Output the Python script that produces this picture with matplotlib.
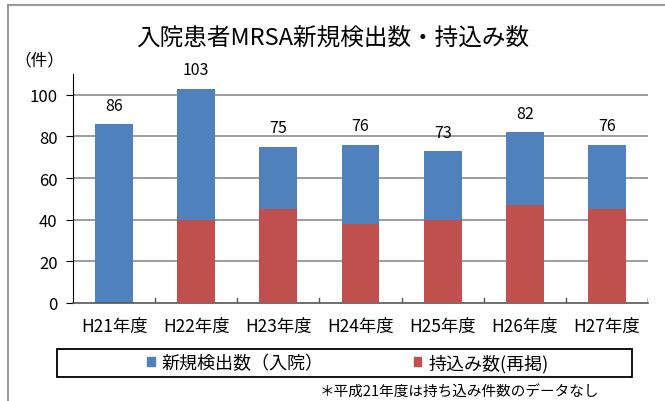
import matplotlib
matplotlib.use("Agg")
import matplotlib.pyplot as plt
from matplotlib.patches import Rectangle, Patch
import numpy as np

plt.rcParams['font.family'] = ['Noto Sans CJK JP', 'DejaVu Sans']

# data
years = ["H21年度", "H22年度", "H23年度", "H24年度", "H25年度", "H26年度", "H27年度"]
new_cases = [86, 103, 75, 76, 73, 82, 76]      # 新規検出数(入院)
brought_in = [0, 40, 45, 38, 40, 47, 45]       # 持込み数(再掲)
yticks = [0, 20, 40, 60, 80, 100]

blue = "#4F81BD"
red = "#C0504D"

fig = plt.figure(figsize=(6.65, 4.02), dpi=100)
ax = fig.add_axes([73/665, 1 - 304/402, (648-73)/665, (304-75)/402])

x = np.arange(len(years))
ax.bar(x, new_cases, width=0.46, color=blue, zorder=2)
ax.bar(x, brought_in, width=0.46, color=red, zorder=3)

for xi, v in zip(x, new_cases):
    ax.text(xi, v + 5, str(v), ha="center", va="bottom", fontsize=11.5)

ax.set_xlim(-0.5, len(years) - 0.5)
ax.set_ylim(0, 110)
ax.set_yticks(yticks)
ax.set_yticklabels([str(t) for t in yticks], fontsize=12)
ax.set_xticks(x)
ax.set_xticklabels(years, fontsize=12.5)
ax.tick_params(axis="x", length=0, pad=10)
ax.tick_params(axis="y", length=5, direction="out", pad=6)

# category boundary ticks pointing up from the axis
for b in np.arange(0.5, len(years), 1.0):
    ax.plot([b, b], [0, 2.5], color="#555555", lw=1, zorder=4)
ax.plot([len(years) - 0.5] * 2, [0, 2.5], color="#555555", lw=1, zorder=4)

for t in yticks[1:]:
    ax.axhline(t, color="#8c8c8c", lw=1.2, zorder=1)

for s in ["top", "right"]:
    ax.spines[s].set_visible(False)
ax.spines["left"].set_color("black")
ax.spines["bottom"].set_color("#555555")
ax.spines["bottom"].set_linewidth(1.2)

fig.text(333/665, 1 - 39/402, "入院患者MRSA新規検出数・持込み数", ha="center", va="center", fontsize=17)
fig.text(39/665, 1 - 61/402, "（件）", ha="center", va="center", fontsize=12)

# chart area border (left and top visible)
fig.patches.append(Rectangle((8/665, -0.1), 1.2, 1 - 6/402 + 0.1, transform=fig.transFigure,
                             fill=False, edgecolor="#999999", lw=1.5))

# legend box
fig.patches.append(Rectangle((57/665, 1 - 378/402), (632-57)/665, 28/402, transform=fig.transFigure,
                             fill=False, edgecolor="black", lw=1.3))
handles = [Patch(color=blue, label="新規検出数（入院）"), Patch(color=red, label="持込み数(再掲)")]
fig.legend(handles=handles, loc="center", bbox_to_anchor=(348/665, 1 - 364/402),
           ncol=2, fontsize=13, frameon=False, handlelength=0.4,
           handleheight=0.4, handletextpad=0.4, columnspacing=5.0,
           borderpad=0.2)

fig.text(459/665, 1 - 393/402, "＊平成21年度は持ち込み件数のデータなし", ha="center", va="center", fontsize=10.5)

fig.savefig("out.png", dpi=100)
